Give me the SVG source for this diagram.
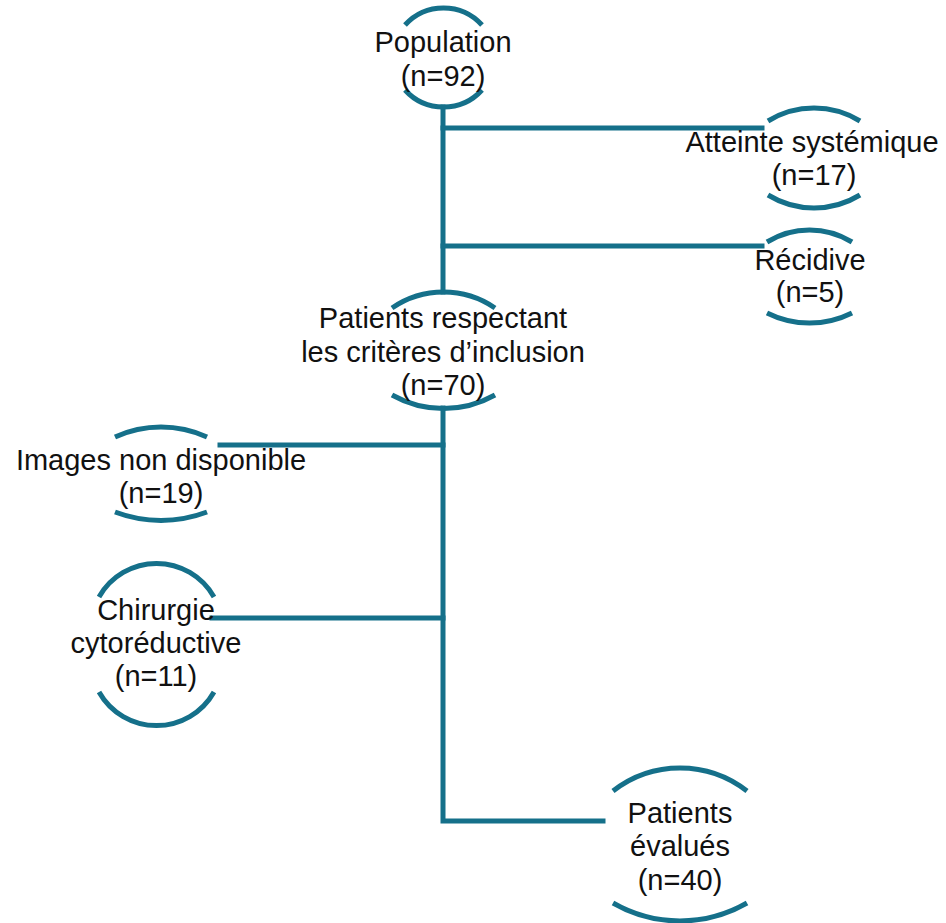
<svg xmlns="http://www.w3.org/2000/svg" width="946" height="923" viewBox="0 0 946 923">
<style>
.arc{fill:none;stroke:#15708a;stroke-width:5}
.conn{fill:none;stroke:#15708a;stroke-width:5;stroke-linecap:square}
text{font-family:"Liberation Sans",Arial,sans-serif;font-size:29px;fill:#111;text-anchor:middle}
</style>
<rect width="946" height="923" fill="#fff"/>
<g id="connectors">
<path class="conn" d="M443,107 V292"/>
<path class="conn" d="M443,128 H762"/>
<path class="conn" d="M443,246 H762"/>
<path class="conn" d="M443,408 V821 H603"/>
<path class="conn" d="M220,445 H443"/>
<path class="conn" d="M212,618 H443"/>
</g>
<g id="population">
<path class="arc" d="M405,25 A52,52 0 0 1 482,25"/>
<path class="arc" d="M405,90 A52,52 0 0 0 482,90"/>
<text x="443" y="52">Population</text>
<text x="443" y="86">(n=92)</text>
</g>
<g id="atteinte">
<path class="arc" d="M768,121 A88,88 0 0 1 860,121"/>
<path class="arc" d="M768,195 A88,88 0 0 0 860,195"/>
<text x="812" y="152">Atteinte systémique</text>
<text x="814" y="185">(n=17)</text>
</g>
<g id="recidive">
<path class="arc" d="M767,242 A81,81 0 0 1 852,242"/>
<path class="arc" d="M767,313 A95,95 0 0 0 852,313"/>
<text x="810" y="270">Récidive</text>
<text x="810" y="302">(n=5)</text>
</g>
<g id="patients-inclusion">
<path class="arc" d="M392,308 A91,91 0 0 1 495,308"/>
<path class="arc" d="M392,395 A105,105 0 0 0 495,395"/>
<text x="443" y="328">Patients respectant</text>
<text x="443" y="362">les critères d’inclusion</text>
<text x="443" y="395">(n=70)</text>
</g>
<g id="images">
<path class="arc" d="M115,437 A111,111 0 0 1 207,437"/>
<path class="arc" d="M115,512 A130,130 0 0 0 207,512"/>
<text x="161" y="470">Images non disponible</text>
<text x="161" y="503">(n=19)</text>
</g>
<g id="chirurgie">
<path class="arc" d="M99,597 A66,66 0 0 1 214,597"/>
<path class="arc" d="M99,692 A66,66 0 0 0 214,692"/>
<text x="156" y="620">Chirurgie</text>
<text x="156" y="653">cytoréductive</text>
<text x="156" y="686">(n=11)</text>
</g>
<g id="patients-evalues">
<path class="arc" d="M613,791 A109,109 0 0 1 747,791"/>
<path class="arc" d="M613,903 A134,134 0 0 0 747,903"/>
<text x="680" y="823">Patients</text>
<text x="680" y="856">évalués</text>
<text x="680" y="890">(n=40)</text>
</g>
</svg>
